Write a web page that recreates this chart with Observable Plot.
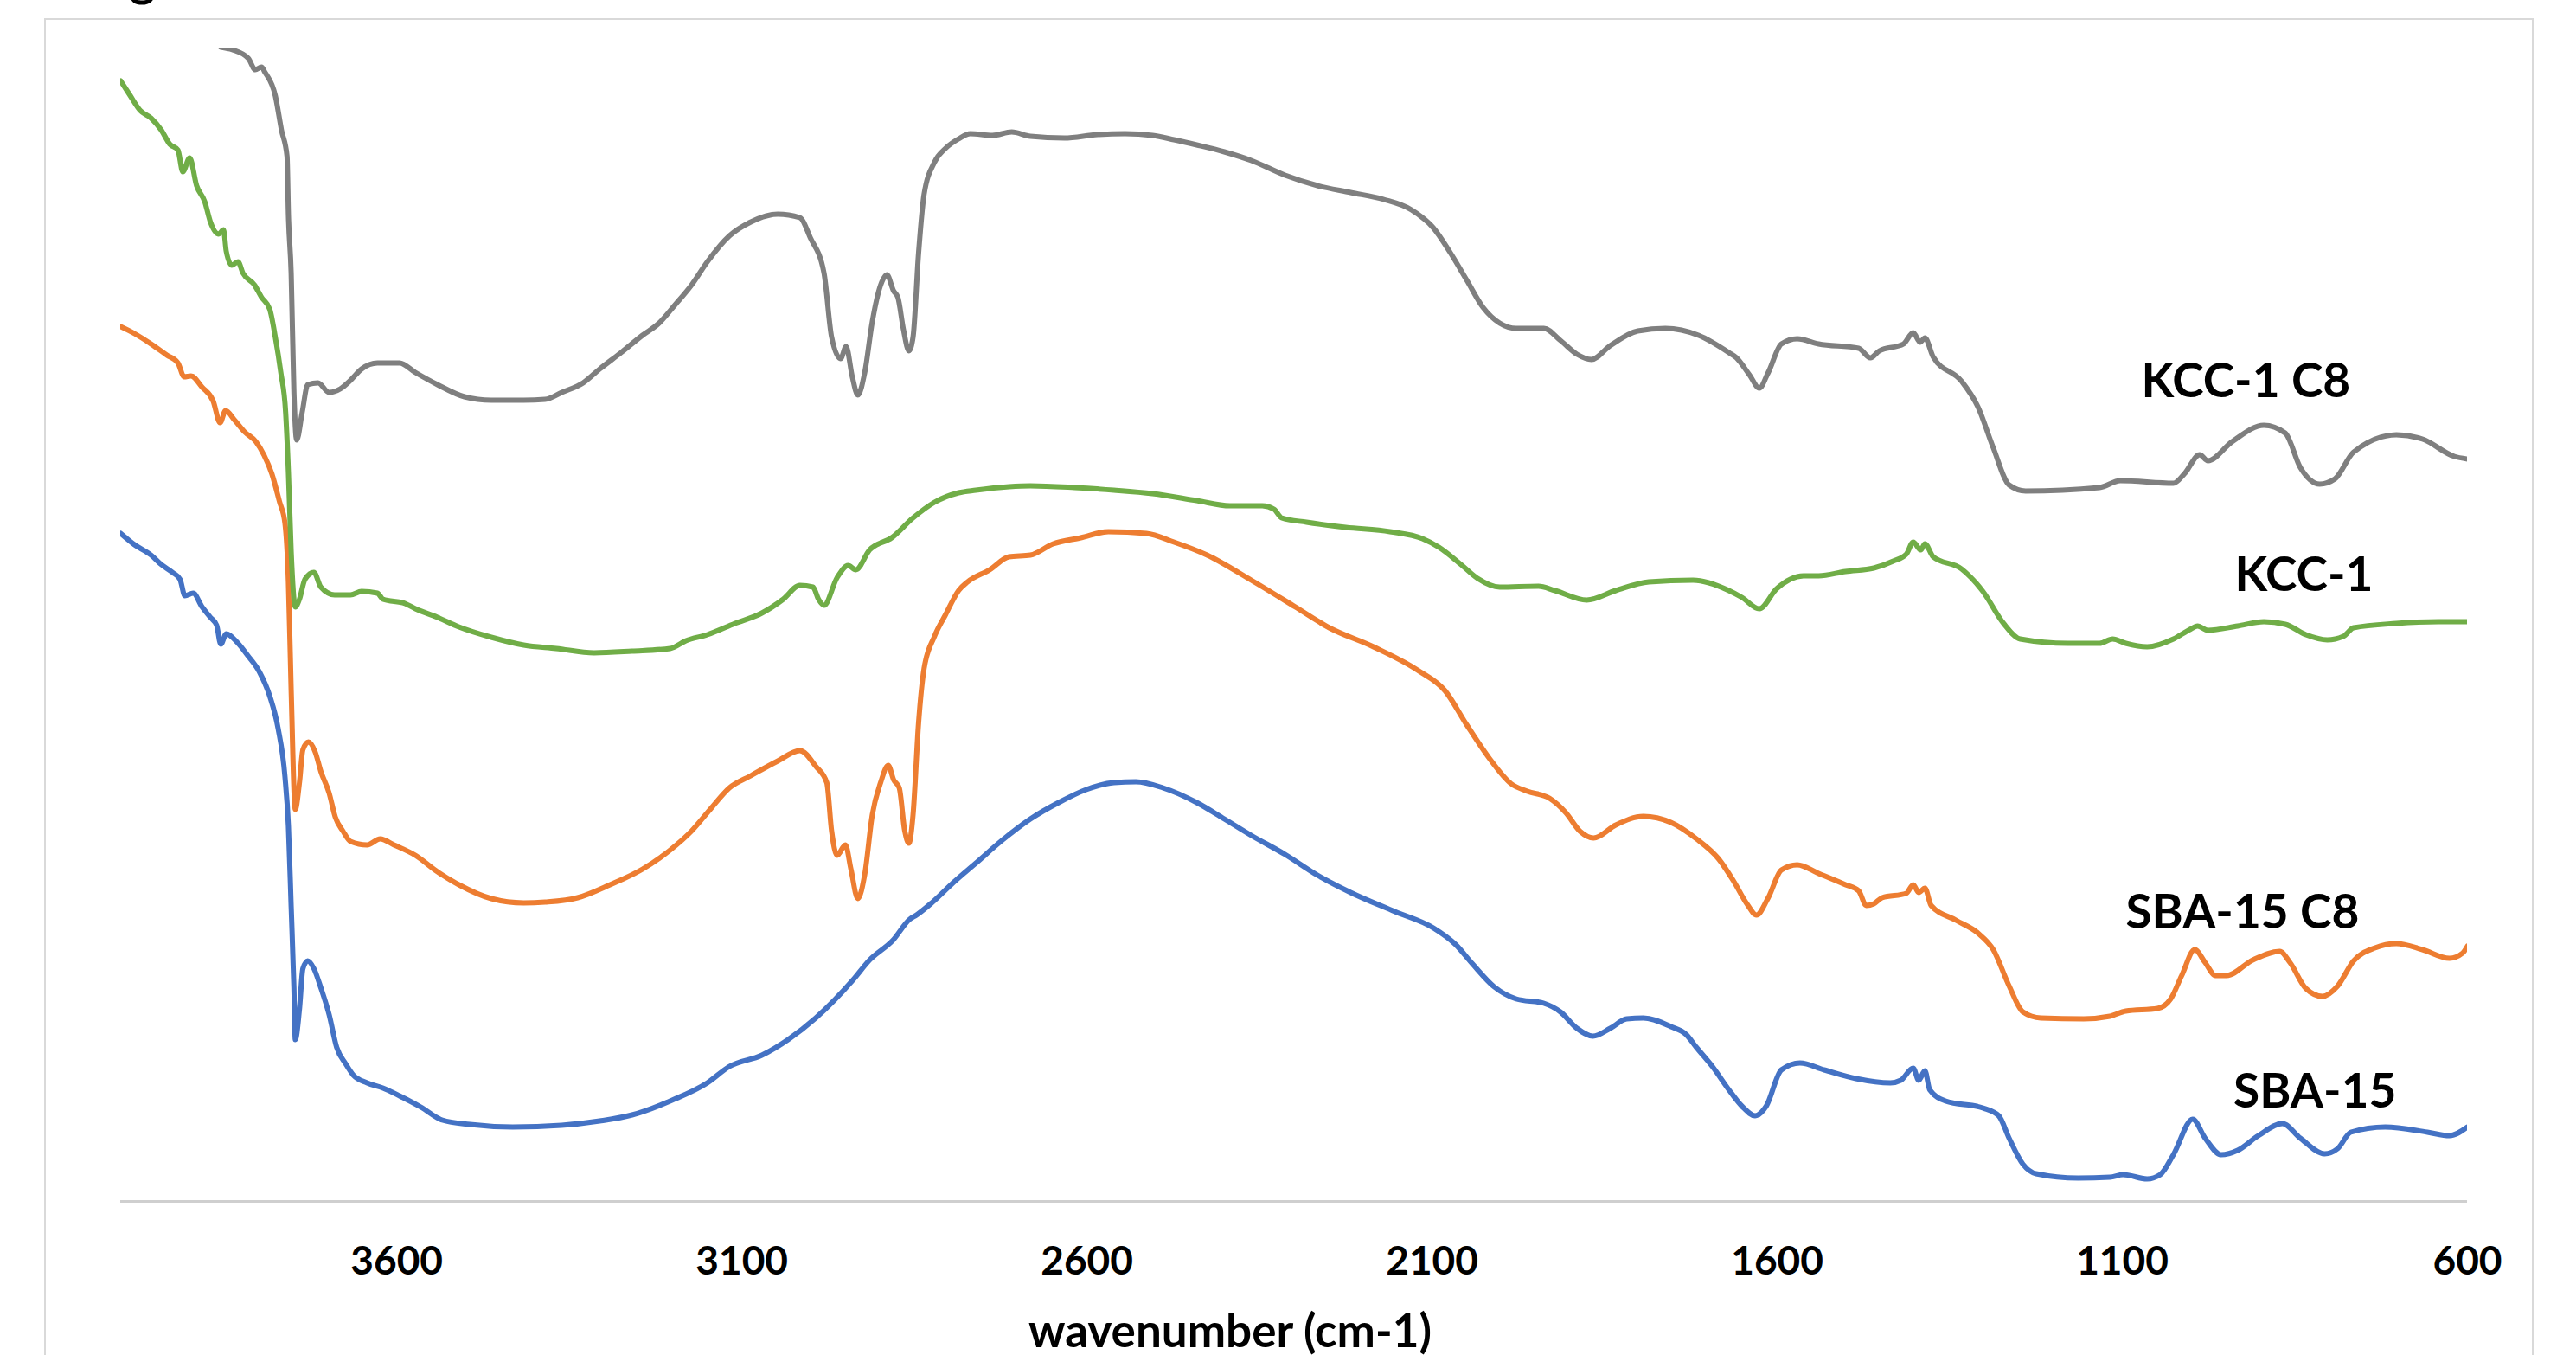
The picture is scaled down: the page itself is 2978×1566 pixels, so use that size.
<!DOCTYPE html>
<html>
<head>
<meta charset="utf-8">
<script src="https://cdn.jsdelivr.net/npm/d3@7"></script>
<script src="https://cdn.jsdelivr.net/npm/@observablehq/plot@0.6"></script>
<style>
  html, body { margin: 0; padding: 0; background: #fff; }
  body { width: 2978px; height: 1566px; overflow: hidden; position: relative; font-family: Lato, "Open Sans", sans-serif; }
  #chart { position: absolute; left: 0; top: 0; }
  #frame { position: absolute; left: 51px; top: 21px; width: 2874px; height: 1700px; border: 2px solid #d9d9d9; pointer-events: none; }
  #xtitle { position: absolute; left: 1422px; top: 1510px; transform: translateX(-50%); font-size: 53px; line-height: 53px; font-weight: bold; white-space: nowrap; color: #000; }
  #figlabel { position: absolute; left: 150px; top: -53px; font-size: 56px; line-height: 56px; font-weight: bold; color: #000; }
</style>
</head>
<body>
<div id="figlabel">g</div>
<div id="chart"></div>
<div id="frame"></div>
<div id="xtitle">wavenumber (cm-1)</div>
<script>
// x tick labels (wavenumber, cm-1)
const xTicks = [3600, 3100, 2600, 2100, 1600, 1100, 600];

// Series: [wavenumber, transmittance (a.u., offset)]
const kcc1C8 = [[3855,133.4],[3838,133.1],[3815,132.1],[3805,130.8],[3796,131.1],[3791,130.5],[3776,127.8],[3767,123.8],[3759,120.8],[3757,114.1],[3753,107.3],[3749,93.5],[3745,88.0],[3737,91.2],[3729,94.4],[3714,94.6],[3698,93.5],[3682,93.9],[3667,94.9],[3651,96.2],[3628,96.9],[3596,96.9],[3573,95.8],[3541,94.4],[3502,93.0],[3463,92.6],[3416,92.6],[3385,92.7],[3361,93.5],[3330,94.6],[3306,96.2],[3275,98.1],[3244,100.1],[3220,101.5],[3197,103.6],[3173,105.9],[3150,108.6],[3118,111.6],[3087,113.2],[3048,114.1],[3016,113.7],[3001,111.4],[2981,107.3],[2970,99.9],[2957,97.4],[2949,98.8],[2940,95.3],[2932,93.2],[2922,95.8],[2911,101.7],[2899,105.9],[2890,107.1],[2880,105.2],[2874,104.5],[2866,100.8],[2858,98.3],[2852,99.9],[2844,109.6],[2836,116.4],[2821,120.1],[2805,121.7],[2786,122.8],[2769,123.4],[2737,123.2],[2709,123.6],[2682,123.1],[2633,122.9],[2585,123.3],[2545,123.4],[2505,123.2],[2474,122.7],[2441,122.1],[2401,121.3],[2362,120.3],[2313,118.6],[2266,117.4],[2218,116.6],[2170,115.8],[2130,114.6],[2098,112.5],[2074,109.7],[2050,106.5],[2026,103.3],[2002,101.5],[1978,100.9],[1938,100.9],[1914,99.5],[1890,97.9],[1869,97.3],[1842,98.9],[1802,100.6],[1762,100.9],[1714,100.1],[1670,98.1],[1659,97.5],[1640,95.5],[1626,94.0],[1613,95.8],[1594,99.1],[1571,99.7],[1540,99.1],[1482,98.6],[1465,97.5],[1452,98.3],[1417,99.1],[1403,100.4],[1393,99.3],[1386,99.8],[1374,97.6],[1333,94.8],[1309,91.8],[1287,87.1],[1264,82.8],[1240,82.1],[1133,82.5],[1103,83.3],[1026,83.0],[1010,84.1],[988,86.3],[976,85.6],[941,87.8],[895,89.7],[864,88.8],[842,84.8],[814,82.9],[792,83.5],[765,86.6],[703,88.6],[665,88.1],[619,86.1],[600,85.8]];

const kcc1 = [[4000,129.5],[3987,127.9],[3972,126.1],[3956,125.2],[3941,123.8],[3929,122.2],[3917,121.5],[3910,119.0],[3900,120.6],[3890,117.4],[3878,115.5],[3870,113.2],[3858,111.8],[3851,112.3],[3847,109.8],[3839,108.2],[3830,108.6],[3823,107.3],[3806,105.9],[3796,104.5],[3784,103.1],[3776,99.9],[3768,95.8],[3761,91.2],[3757,84.3],[3753,75.1],[3747,68.7],[3741,69.6],[3733,71.9],[3720,72.7],[3710,71.0],[3690,70.1],[3667,70.1],[3651,70.5],[3628,70.3],[3620,69.6],[3588,69.1],[3573,68.5],[3541,67.5],[3510,66.4],[3463,65.2],[3416,64.3],[3369,63.9],[3314,63.4],[3259,63.6],[3204,63.9],[3181,64.8],[3150,65.5],[3110,66.8],[3071,68.0],[3040,69.6],[3016,71.2],[2997,71.0],[2989,69.6],[2981,68.9],[2962,72.1],[2946,73.5],[2935,73.0],[2915,75.3],[2883,76.7],[2852,79.0],[2821,80.8],[2786,81.9],[2761,82.2],[2713,82.6],[2682,82.7],[2618,82.5],[2561,82.2],[2505,81.8],[2441,81.0],[2393,80.4],[2346,80.4],[2329,80.0],[2318,79.0],[2282,78.5],[2225,77.9],[2161,77.4],[2114,76.6],[2090,75.6],[2058,73.6],[2034,72.0],[2002,71.0],[1946,71.1],[1922,70.6],[1876,69.5],[1834,70.6],[1786,71.6],[1722,71.8],[1670,70.6],[1651,69.8],[1626,68.5],[1601,70.8],[1562,72.3],[1540,72.3],[1501,72.8],[1460,73.2],[1432,74.0],[1413,74.8],[1403,76.2],[1392,75.3],[1386,76.0],[1374,74.5],[1333,73.1],[1302,70.5],[1272,66.8],[1248,65.0],[1179,64.5],[1133,64.5],[1114,65.0],[1095,64.5],[1064,64.1],[1026,65.0],[1002,66.1],[991,66.5],[976,66.0],[933,66.5],[895,67.0],[864,66.7],[834,65.5],[803,64.9],[780,65.3],[765,66.3],[703,66.8],[642,67.0],[600,67.0]];

const sba15C8 = [[4000,101.1],[3980,100.3],[3956,99.1],[3933,97.8],[3917,96.9],[3908,95.3],[3898,95.4],[3882,94.1],[3866,92.5],[3856,90.0],[3848,91.4],[3835,90.3],[3820,88.9],[3804,87.8],[3792,86.2],[3781,84.1],[3770,80.9],[3762,78.4],[3757,71.6],[3753,59.1],[3747,45.3],[3741,48.4],[3736,52.2],[3728,53.1],[3718,51.9],[3710,49.7],[3698,47.2],[3689,44.4],[3678,42.8],[3667,41.6],[3643,41.2],[3624,41.9],[3604,41.2],[3573,40.0],[3541,38.1],[3510,36.6],[3463,35.0],[3416,34.5],[3385,34.6],[3338,35.1],[3291,36.6],[3244,38.4],[3204,40.6],[3173,42.8],[3146,45.3],[3118,47.8],[3087,49.2],[3048,50.9],[3016,52.1],[2993,50.3],[2977,48.4],[2970,42.8],[2962,40.0],[2950,41.2],[2942,38.4],[2932,35.0],[2922,37.8],[2911,44.7],[2899,48.4],[2888,50.4],[2880,48.7],[2872,47.8],[2864,42.8],[2858,41.4],[2852,44.7],[2844,55.3],[2836,61.6],[2821,65.3],[2805,67.8],[2786,70.6],[2773,71.6],[2741,73.0],[2713,74.5],[2682,74.7],[2649,76.0],[2609,76.7],[2569,77.4],[2514,77.2],[2474,76.2],[2426,74.7],[2362,71.8],[2298,68.7],[2249,66.3],[2185,64.1],[2121,61.4],[2081,59.0],[2050,55.1],[2017,51.2],[1986,48.3],[1962,47.4],[1930,46.6],[1906,44.9],[1886,42.8],[1866,42.0],[1834,43.5],[1794,44.5],[1754,43.8],[1717,41.9],[1685,39.6],[1663,37.0],[1644,34.4],[1630,33.1],[1613,35.1],[1594,38.3],[1571,38.9],[1540,37.9],[1501,36.6],[1482,35.9],[1471,34.2],[1460,34.4],[1448,35.1],[1413,35.6],[1403,36.6],[1395,35.7],[1386,36.2],[1377,34.2],[1341,32.5],[1309,31.0],[1287,29.1],[1264,24.9],[1244,21.9],[1218,21.2],[1156,21.1],[1118,21.4],[1095,22.0],[1049,22.3],[1030,23.4],[1014,26.1],[995,29.1],[980,27.6],[965,26.1],[949,26.1],[911,27.9],[872,28.9],[857,27.6],[834,24.6],[810,23.7],[788,24.9],[765,27.8],[734,29.3],[703,29.8],[665,29.1],[626,28.1],[607,28.7],[600,29.5]];

const sba15 = [[4000,77.2],[3980,75.9],[3956,74.7],[3941,73.6],[3925,72.7],[3914,71.9],[3907,70.0],[3895,70.3],[3882,68.7],[3870,67.5],[3861,66.6],[3855,64.4],[3847,65.6],[3831,64.6],[3816,63.1],[3799,61.2],[3784,58.4],[3772,54.7],[3762,49.1],[3757,43.4],[3753,34.1],[3749,24.7],[3747,18.7],[3741,22.2],[3736,26.9],[3729,27.8],[3720,26.9],[3710,24.7],[3698,21.6],[3687,17.8],[3674,15.9],[3663,14.6],[3643,13.7],[3620,13.1],[3596,12.2],[3565,10.9],[3534,9.4],[3494,8.9],[3432,8.6],[3361,8.8],[3306,9.3],[3259,10.0],[3204,11.6],[3150,13.7],[3118,15.6],[3071,16.9],[3033,18.7],[2993,21.2],[2939,25.6],[2915,27.9],[2881,30.2],[2857,32.6],[2847,33.1],[2825,34.5],[2793,36.9],[2761,39.1],[2722,41.8],[2682,44.2],[2641,46.1],[2601,47.6],[2561,48.4],[2529,48.5],[2490,47.8],[2441,46.1],[2401,44.2],[2362,42.3],[2313,40.1],[2266,37.7],[2218,35.7],[2154,33.5],[2098,31.6],[2066,29.7],[2042,27.5],[2010,24.8],[1978,23.4],[1938,22.9],[1914,21.9],[1890,20.0],[1867,19.1],[1842,20.0],[1818,21.1],[1794,21.2],[1754,20.2],[1732,19.3],[1717,17.8],[1693,15.5],[1670,12.9],[1651,11.0],[1632,9.9],[1616,11.0],[1594,15.2],[1567,16.0],[1532,15.2],[1486,14.2],[1436,13.7],[1421,14.0],[1403,15.4],[1395,14.0],[1386,15.1],[1379,12.9],[1356,11.6],[1302,10.8],[1279,9.9],[1264,7.3],[1244,4.3],[1225,3.2],[1164,2.7],[1118,2.8],[1099,3.1],[1064,2.6],[1045,3.1],[1026,5.4],[998,9.5],[980,7.3],[957,5.4],[933,5.9],[903,7.6],[868,9.0],[842,7.3],[807,5.5],[788,6.1],[769,8.0],[719,8.6],[658,8.0],[626,7.6],[600,8.6]];

// Series names and label anchor points (data units)
const seriesNames = ["KCC-1 C8", "KCC-1", "SBA-15 C8", "SBA-15"];
const labelWavenumber = [921, 837, 926, 821];
const labelValue = [94.7, 72.3, 33.3, 12.6];

// Styles
const seriesColors = ["#7f7f7f", "#70ad47", "#ed7d31", "#4472c4"];
const seriesData = [kcc1C8, kcc1, sba15C8, sba15];

const drawOrder = [3, 2, 0, 1];
const lineMarks = drawOrder.map(i =>
  Plot.line(seriesData[i], {
    x: d => d[0], y: d => d[1],
    stroke: seriesColors[i], strokeWidth: 6,
    curve: "monotone-x",
    strokeLinejoin: "round", strokeLinecap: "round",
    clip: true
  })
);

const labels = seriesNames.map((name, i) => ({ name, x: labelWavenumber[i], y: labelValue[i] }));

const chart = Plot.plot({
  width: 2978,
  height: 1566,
  marginLeft: 139,
  marginRight: 126,
  marginTop: 55,
  marginBottom: 178,
  style: { background: "transparent", fontFamily: "Lato, 'Open Sans', sans-serif", overflow: "visible" },
  x: { domain: [4000, 600], axis: null },
  y: { domain: [0, 133.3], axis: null },
  marks: [
    Plot.ruleY([0], { stroke: "#cfcfcf", strokeWidth: 3 }),
    Plot.axisX({
      ticks: xTicks, tickSize: 0, tickPadding: 52,
      tickFormat: d => String(d),
      fontSize: 46, fontWeight: "bold", label: null, fill: "#000"
    }),
    ...lineMarks,
    Plot.text(labels, {
      x: "x", y: "y", text: "name",
      fontSize: 55, fontWeight: "bold", fill: "#000"
    })
  ]
});
document.getElementById("chart").appendChild(chart);
</script>
</body>
</html>
